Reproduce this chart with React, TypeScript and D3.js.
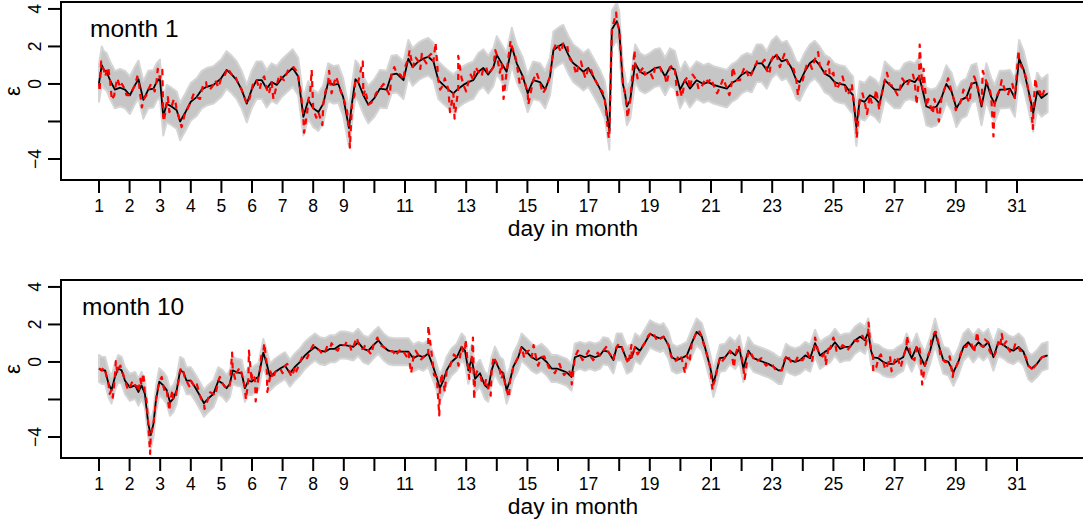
import React from 'react';
import * as d3 from 'd3';

type P = [number, number];

const dayTicks: number[] = d3.range(1, 32);
const dayLabels: number[] = [1, 2, 3, 4, 5, 6, 7, 8, 9, 11, 13, 15, 17, 19, 21, 23, 25, 27, 29, 31];
const yTicks: number[] = [-4, -2, 0, 2, 4];
const yLabels: number[] = [-4, 0, 2, 4];

// month 1 : smoothed estimate (black)
const m1Black: P[] = [
  [1.0,0.05],[1.09,1.0],[1.16,0.75],[1.25,0.65],[1.36,0.2],[1.52,-0.3],[1.69,-0.2],[1.85,-0.3],[2.01,-0.6],[2.18,-0.05],
  [2.29,0.25],[2.45,-0.85],[2.61,-0.3],[2.78,-0.25],[2.88,0.1],[2.99,0.3],[3.1,-1.75],[3.21,-1.05],[3.37,-1.2],[3.54,-1.4],
  [3.65,-2.0],[3.81,-1.55],[4.0,-0.95],[4.19,-0.7],[4.36,-0.3],[4.52,-0.15],[4.74,-0.05],[4.99,0.3],[5.17,0.75],[5.34,0.5],
  [5.5,0.2],[5.66,-0.3],[5.83,-1.05],[5.99,-0.3],[6.15,0.2],[6.32,0.2],[6.48,-0.25],[6.64,0.1],[6.81,-0.05],[6.97,0.3],
  [7.13,0.55],[7.33,0.85],[7.51,0.4],[7.68,-1.75],[7.84,-0.85],[8.0,-1.3],[8.17,-1.5],[8.33,-1.05],[8.49,0.1],[8.66,-0.05],
  [8.82,0.0],[8.98,-0.7],[9.17,-2.35],[9.27,-1.0],[9.38,0.25],[9.47,0.1],[9.64,-0.6],[9.8,-1.1],[10.0,-0.75],[10.18,-0.25],
  [10.4,-0.3],[10.56,0.5],[10.73,0.55],[10.95,0.2],[11.11,1.35],[11.25,0.9],[11.44,1.2],[11.6,1.35],[11.76,1.45],[11.93,1.2],
  [12.09,0.2],[12.25,-0.05],[12.42,-0.3],[12.58,-0.5],[12.74,-0.25],[12.91,-0.05],[13.07,0.1],[13.23,0.2],[13.4,0.65],[13.56,0.85],
  [13.72,0.5],[13.89,0.9],[14.0,1.55],[14.16,1.1],[14.32,0.65],[14.49,2.0],[14.65,1.1],[14.85,0.4],[15.01,-0.5],[15.19,0.2],
  [15.41,0.1],[15.58,-0.3],[15.74,0.4],[15.85,1.8],[16.01,2.0],[16.17,2.15],[16.34,1.55],[16.5,1.1],[16.66,0.9],[16.83,0.65],
  [16.99,0.85],[17.15,0.4],[17.37,-0.25],[17.53,-0.85],[17.68,-2.5],[17.76,2.9],[17.92,3.35],[18.0,2.9],[18.12,0.0],[18.19,-0.5],
  [18.25,-1.2],[18.36,-0.85],[18.52,1.1],[18.68,0.65],[18.84,0.5],[19.0,0.65],[19.17,0.85],[19.33,0.9],[19.5,0.4],[19.66,0.9],
  [19.82,0.75],[19.99,-0.3],[20.15,0.2],[20.31,-0.25],[20.53,0.2],[20.75,0.0],[20.91,0.1],[21.08,-0.05],[21.3,-0.15],[21.52,-0.25],
  [21.68,0.05],[21.84,0.2],[22.0,0.5],[22.17,0.65],[22.33,0.55],[22.49,1.1],[22.66,1.1],[22.82,0.75],[22.98,1.3],[23.14,1.55],
  [23.31,1.2],[23.47,1.3],[23.63,0.85],[23.79,0.2],[23.9,0.1],[24.06,0.65],[24.23,1.1],[24.39,1.3],[24.55,1.0],[24.72,0.55],
  [24.88,0.4],[25.04,0.1],[25.2,0.0],[25.37,-0.05],[25.53,-0.4],[25.64,-0.6],[25.75,-2.3],[25.86,-0.85],[26.02,-0.95],[26.19,-0.6],
  [26.35,-0.75],[26.51,-1.05],[26.68,0.2],[26.84,-0.05],[27.0,-0.3],[27.17,-0.3],[27.33,0.1],[27.49,0.2],[27.66,0.1],[27.8,0.4],
  [27.91,-0.3],[28.04,-1.2],[28.2,-1.3],[28.37,-1.2],[28.53,-0.75],[28.69,0.0],[28.86,-0.4],[29.02,-1.3],[29.18,-0.85],[29.35,-0.7],
  [29.51,0.0],[29.67,0.1],[29.84,-1.2],[30.0,0.1],[30.16,-0.7],[30.27,-1.05],[30.44,-0.3],[30.6,-0.3],[30.77,-0.25],[30.93,-0.75],
  [31.07,1.35],[31.22,0.75],[31.36,-0.25],[31.53,-1.55],[31.66,-0.4],[31.8,-0.75],[32.0,-0.5]
];

// month 1 : observed values (red dashed) where they leave the black path
const m1RedObs: P[] = [
  [1.02,-0.4],[1.07,1.2],[1.2,0.4],[1.3,0.9],[1.42,-0.85],[1.5,-0.6],[1.6,0.3],[1.75,0.0],[1.9,-0.6],[2.1,-0.3],
  [2.25,0.4],[2.4,-1.25],[2.55,-0.6],[2.7,0.0],[2.82,-0.4],[2.92,0.8],[3.07,0.75],[3.12,-2.0],[3.25,-0.7],[3.3,-1.5],
  [3.45,-0.8],[3.5,-1.0],[3.6,-1.7],[3.7,-2.3],[3.9,-1.3],[4.1,-0.5],[4.3,-0.8],[4.4,-0.1],[4.5,0.1],[4.6,-0.35],
  [4.8,0.2],[4.9,-0.2],[5.1,0.4],[5.2,0.85],[5.45,0.5],[5.6,-0.1],[5.9,-0.9],[6.05,0.1],[6.25,-0.3],[6.4,0.4],
  [6.55,-0.55],[6.7,-0.8],[6.9,0.5],[7.05,0.2],[7.2,0.8],[7.36,0.9],[7.45,0.7],[7.6,-0.5],[7.7,-2.6],[7.8,-1.6],
  [7.9,-0.5],[7.95,0.75],[8.1,-1.8],[8.3,-2.2],[8.4,-0.4],[8.52,0.7],[8.6,-0.5],[8.75,0.4],[8.9,-0.4],[9.1,-1.4],
  [9.2,-3.4],[9.35,-0.6],[9.62,1.2],[9.7,-0.3],[9.9,-1.0],[10.05,-0.5],[10.3,0.0],[10.5,-0.6],[10.65,0.9],[10.85,0.5],
  [11.0,0.9],[11.15,1.8],[11.35,1.4],[11.5,0.8],[11.55,1.6],[11.7,1.1],[11.85,1.6],[12.0,2.2],[12.15,-0.3],[12.3,0.3],
  [12.47,-1.5],[12.62,-1.85],[12.74,1.5],[12.85,0.3],[13.0,-0.4],[13.15,0.5],[13.3,0.9],[13.5,0.4],[13.65,0.9],[13.95,1.8],
  [14.1,0.6],[14.22,-0.8],[14.45,2.3],[14.6,1.5],[14.75,0.0],[14.9,0.2],[15.03,-1.1],[15.3,0.6],[15.5,-0.5],[15.8,1.2],
  [15.95,2.2],[16.1,1.7],[16.3,2.1],[16.4,1.3],[16.6,0.5],[16.75,1.2],[16.9,0.3],[17.05,0.9],[17.25,0.1],[17.45,-0.4],
  [17.66,-2.9],[17.9,3.8],[18.27,-1.8],[18.5,1.8],[18.6,0.3],[18.8,0.9],[19.1,0.3],[19.25,1.0],[19.4,0.6],[19.55,0.0],
  [19.75,1.0],[19.9,-0.6],[20.05,-0.7],[20.25,0.4],[20.4,0.5],[20.6,-0.3],[20.8,0.3],[21.0,0.3],[21.2,-0.5],[21.4,0.3],
  [21.6,-0.6],[21.7,0.9],[21.95,0.2],[22.1,0.9],[22.25,0.3],[22.4,0.9],[22.5,1.2],[22.75,1.3],[22.9,0.5],[23.1,1.65],
  [23.25,0.9],[23.4,1.6],[23.55,1.0],[23.7,0.8],[23.84,-0.6],[24.0,0.2],[24.15,1.1],[24.3,0.8],[24.5,1.7],[24.65,0.7],
  [24.85,1.2],[25.0,0.6],[25.1,-0.3],[25.3,0.4],[25.45,-0.6],[25.6,0.0],[25.76,-2.9],[25.95,-0.5],[26.1,-1.6],[26.25,-1.0],
  [26.4,-0.3],[26.5,-1.4],[26.6,-0.4],[26.75,0.6],[26.95,-0.1],[27.1,-0.6],[27.25,0.3],[27.4,-0.1],[27.6,0.5],[27.72,-1.1],
  [27.82,2.1],[27.95,0.8],[28.1,-0.8],[28.25,-1.6],[28.3,-0.8],[28.45,-2.0],[28.6,-0.4],[28.75,0.3],[28.95,-0.9],[29.0,-1.4],
  [29.1,-1.2],[29.25,-0.3],[29.45,-1.0],[29.6,0.4],[29.75,-0.4],[29.88,0.7],[30.1,-0.2],[30.23,-2.8],[30.35,-0.6],[30.5,0.2],
  [30.7,-0.6],[30.85,0.0],[31.05,1.8],[31.15,0.9],[31.3,0.3],[31.45,-1.0],[31.52,-2.4],[31.6,0.3],[31.75,-0.4],[31.9,-0.3]
];

// month 10 : smoothed estimate (black)
const m10Black: P[] = [
  [1.0,-0.35],[1.09,-0.45],[1.2,-0.45],[1.31,-1.15],[1.41,-1.5],[1.52,-0.8],[1.63,-0.35],[1.74,-0.45],[1.85,-1.0],[2.01,-1.35],
  [2.18,-1.25],[2.29,-1.6],[2.39,-1.25],[2.5,-1.7],[2.61,-3.3],[2.69,-3.9],[2.78,-3.3],[2.86,-2.05],[2.97,-1.05],[3.1,-1.25],
  [3.21,-1.5],[3.32,-2.15],[3.43,-1.95],[3.54,-1.5],[3.65,-0.45],[3.76,-0.55],[3.86,-1.0],[4.0,-1.0],[4.14,-1.35],[4.3,-1.8],
  [4.43,-2.2],[4.57,-1.95],[4.74,-1.7],[4.9,-1.0],[5.04,-1.15],[5.17,-1.4],[5.28,-1.15],[5.37,-0.45],[5.5,-0.55],[5.66,-0.6],
  [5.77,-1.4],[5.88,-1.0],[5.99,-1.05],[6.1,-0.9],[6.21,-0.8],[6.37,0.5],[6.48,-0.1],[6.59,-0.8],[6.75,-0.55],[6.92,-0.35],
  [7.08,-0.2],[7.24,-0.6],[7.41,-0.25],[7.57,0.0],[7.73,0.35],[7.9,0.6],[8.06,0.8],[8.22,0.6],[8.39,0.55],[8.55,0.7],
  [8.71,0.7],[8.88,0.9],[9.04,0.9],[9.2,0.85],[9.31,0.8],[9.47,1.05],[9.64,0.7],[9.8,0.6],[9.97,0.9],[10.13,1.15],
  [10.3,0.8],[10.46,0.6],[10.62,0.55],[10.78,0.55],[10.95,0.55],[11.11,0.55],[11.27,0.2],[11.44,0.35],[11.6,0.25],[11.76,0.45],
  [11.92,-0.25],[12.03,-0.8],[12.14,-1.4],[12.25,-1.0],[12.36,-0.45],[12.52,0.0],[12.69,0.25],[12.85,0.8],[12.96,0.6],[13.07,-0.45],
  [13.18,0.2],[13.29,-0.9],[13.45,-0.6],[13.61,-1.25],[13.72,-1.4],[13.83,-0.45],[13.94,0.1],[14.1,-0.45],[14.21,-0.6],[14.32,-1.5],
  [14.43,-1.0],[14.54,-0.25],[14.7,0.25],[14.81,0.8],[14.97,0.55],[15.14,0.25],[15.3,0.1],[15.46,0.25],[15.63,0.0],[15.79,-0.35],
  [15.96,-0.35],[16.12,-0.45],[16.28,-0.55],[16.44,-0.8],[16.55,0.25],[16.72,0.35],[16.88,0.25],[17.04,0.35],[17.21,0.25],[17.37,0.35],
  [17.48,0.6],[17.64,0.55],[17.81,0.1],[17.92,0.8],[18.08,0.8],[18.25,0.1],[18.41,0.25],[18.52,0.8],[18.68,0.6],[18.85,1.05],
  [19.01,1.5],[19.17,1.35],[19.34,1.25],[19.45,1.35],[19.61,0.9],[19.72,0.25],[19.88,0.1],[20.04,0.2],[20.21,0.35],[20.37,1.0],
  [20.53,1.6],[20.7,1.35],[20.8,0.8],[20.97,-0.25],[21.08,-1.15],[21.19,-0.45],[21.29,0.2],[21.46,0.25],[21.62,0.6],[21.79,0.35],
  [21.93,0.7],[22.06,-0.35],[22.22,0.6],[22.39,0.2],[22.55,0.1],[22.71,0.0],[22.87,-0.1],[23.04,-0.25],[23.2,-0.45],[23.31,-0.45],
  [23.45,0.25],[23.58,0.1],[23.75,0.0],[23.91,0.1],[24.08,0.35],[24.24,0.2],[24.4,1.0],[24.56,0.35],[24.73,0.55],[24.89,0.7],
  [25.05,1.05],[25.22,0.7],[25.38,0.8],[25.54,0.8],[25.7,1.15],[25.87,1.35],[26.03,1.15],[26.14,1.6],[26.23,0.6],[26.3,0.25],
  [26.47,0.2],[26.63,0.0],[26.79,-0.1],[26.96,-0.1],[27.12,0.1],[27.28,0.25],[27.39,0.8],[27.56,0.2],[27.72,0.8],[27.85,0.25],
  [27.99,-0.2],[28.16,0.6],[28.32,1.6],[28.46,0.8],[28.59,0.1],[28.76,0.0],[28.92,-0.55],[29.08,0.0],[29.25,0.8],[29.41,1.05],
  [29.57,0.7],[29.74,1.05],[29.9,0.8],[30.06,1.05],[30.23,0.25],[30.39,1.05],[30.56,0.9],[30.72,0.7],[30.88,0.6],[31.05,0.8],
  [31.21,0.55],[31.37,-0.2],[31.48,-0.35],[31.65,-0.1],[31.81,0.25],[32.0,0.35]
];

// month 10 : observed values (red dashed) where they leave the black path
const m10RedObs: P[] = [
  [1.15,-0.3],[1.25,-0.8],[1.35,-1.7],[1.45,-1.9],[1.55,0.05],[1.6,-0.6],[1.7,-0.2],[1.8,-0.7],[1.95,-1.5],[2.1,-1.0],
  [2.25,-1.3],[2.35,-0.9],[2.45,-0.6],[2.55,-2.0],[2.67,-4.9],[2.9,-1.6],[3.05,-0.8],[3.15,-1.6],[3.3,-2.6],[3.4,-1.5],
  [3.5,-2.0],[3.6,-1.0],[3.7,-0.3],[3.8,-0.8],[3.95,-1.3],[4.2,-1.2],[4.35,-2.0],[4.45,-2.5],[4.6,-1.6],[4.8,-1.8],
  [4.95,-0.8],[5.1,-1.3],[5.25,-1.4],[5.35,0.5],[5.45,-0.9],[5.6,-0.3],[5.7,-0.9],[5.8,-2.0],[5.9,0.6],[6.0,-0.6],
  [6.12,-2.1],[6.25,-0.6],[6.3,0.3],[6.4,1.0],[6.5,-1.6],[6.6,-0.5],[6.7,-0.9],[6.85,-0.4],[7.0,-0.6],[7.15,-0.1],
  [7.3,-0.8],[7.45,-0.5],[7.65,0.3],[7.8,0.2],[8.0,0.9],[8.3,0.4],[8.45,0.8],[8.6,1.0],[8.8,0.6],[9.1,1.1],
  [9.25,0.6],[9.42,1.3],[9.55,0.7],[9.7,0.9],[9.9,0.4],[10.1,1.3],[10.2,0.9],[10.4,0.7],[10.7,0.3],[10.9,0.7],
  [11.05,0.3],[11.2,-0.6],[11.35,0.6],[11.5,0.1],[11.65,0.5],[11.76,1.95],[11.95,-0.7],[12.05,-1.1],[12.12,-2.85],[12.2,-0.6],
  [12.3,-1.6],[12.45,-0.3],[12.6,0.4],[12.75,-0.2],[12.9,0.5],[12.98,1.2],[13.1,-0.9],[13.22,1.3],[13.26,-2.0],[13.35,-0.5],
  [13.5,-1.0],[13.65,-0.9],[13.8,-1.8],[13.9,0.3],[14.05,-0.2],[14.15,-0.9],[14.25,-1.0],[14.4,-1.9],[14.5,-0.6],[14.65,0.1],
  [14.9,0.2],[15.05,0.6],[15.2,0.9],[15.35,-0.2],[15.55,0.3],[15.7,-0.3],[15.9,-0.6],[16.05,-0.1],[16.2,-0.7],[16.35,-0.4],
  [16.45,-1.2],[16.65,0.6],[16.8,0.1],[17.0,0.6],[17.15,0.1],[17.3,0.5],[17.6,0.85],[17.75,0.3],[17.85,0.5],[18.0,1.0],
  [18.15,0.5],[18.3,-0.1],[18.4,0.9],[18.6,0.4],[18.75,0.8],[18.95,1.4],[19.1,1.6],[19.25,1.1],[19.5,1.2],[19.7,0.3],
  [19.8,0.0],[19.95,0.4],[20.15,-0.6],[20.3,0.0],[20.45,1.3],[20.6,1.7],[20.75,1.0],[20.9,0.2],[21.05,-1.5],[21.15,-0.9],
  [21.35,0.0],[21.55,0.4],[21.7,0.2],[21.75,-0.3],[21.9,0.9],[22.0,0.3],[22.1,-0.9],[22.3,0.5],[22.45,0.0],[22.65,0.2],
  [22.8,-0.2],[23.0,-0.1],[23.15,-0.5],[23.4,0.1],[23.5,0.4],[23.65,-0.1],[23.85,0.3],[24.0,0.1],[24.15,0.5],[24.3,0.0],
  [24.4,1.3],[24.5,0.6],[24.65,0.3],[24.75,-0.2],[24.85,0.9],[25.0,1.3],[25.1,0.6],[25.3,0.9],[25.45,0.6],[25.6,1.0],
  [25.8,1.1],[25.95,1.4],[26.05,0.9],[26.15,2.1],[26.2,1.0],[26.3,-0.5],[26.4,-0.3],[26.55,0.4],[26.7,-0.4],[26.85,0.3],
  [26.9,-0.5],[27.05,0.3],[27.2,-0.3],[27.4,1.4],[27.5,0.6],[27.65,0.1],[27.8,0.9],[27.9,-1.2],[28.05,0.2],[28.2,1.2],
  [28.35,1.6],[28.5,0.3],[28.65,0.0],[28.8,0.3],[28.9,-0.8],[29.0,-0.3],[29.15,0.4],[29.35,0.8],[29.5,1.0],[29.6,0.5],
  [29.7,1.6],[29.8,0.9],[29.95,1.2],[30.1,0.6],[30.3,0.5],[30.45,0.8],[30.5,1.5],[30.65,1.1],[30.8,0.5],[30.95,1.0],
  [31.1,0.6],[31.3,0.2],[31.5,-0.5],[31.55,-0.3],[31.7,0.0],[31.9,0.3]
];

const FONT = "'Liberation Sans', Arial, Helvetica, sans-serif";

interface PanelProps {
  top: number;
  black: P[];
  obs: P[];
  label: string;
  labelX: number;
  half: number;
}

function Panel({ top, black, obs, label, labelX, half }: PanelProps) {
  const bottom = top + 178;
  const left = 61;
  const x = d3.scaleLinear().domain([1, 32]).range([99, 99 + 30.6 * 31]);
  const y = d3.scaleLinear().domain([-5.12, 4.37]).range([bottom, top]);
  const red = [...black, ...obs].sort((a, b) => a[0] - b[0]);
  const line = d3.line<P>().x(d => x(d[0])).y(d => y(d[1]));
  const area = d3.area<P>().x(d => x(d[0])).y0(d => y(d[1] - half)).y1(d => y(d[1] + half));
  return (
    <g>
      <path d={area(black) || ''} fill="#c6c6c6" stroke="#d5d5d5" strokeWidth={2} strokeLinejoin="round" />
      <path d={line(black) || ''} fill="none" stroke="#000" strokeWidth={1.8} strokeLinejoin="round" />
      <path d={line(red) || ''} fill="none" stroke="#ff0000" strokeWidth={2.2} strokeDasharray="6,5" strokeLinejoin="round" />
      <rect x={left} y={top} width={1100} height={bottom - top} fill="none" stroke="#000" strokeWidth={2} />
      {dayTicks.map(d => (
        <line key={'xt' + d} x1={x(d)} x2={x(d)} y1={bottom} y2={bottom + 13} stroke="#000" strokeWidth={2} />
      ))}
      {dayLabels.map(d => (
        <text key={'xl' + d} x={x(d)} y={bottom + 32} textAnchor="middle" fontSize={17.5} fontFamily={FONT}>{d}</text>
      ))}
      {yTicks.map(v => (
        <line key={'yt' + v} x1={left - 13} x2={left} y1={y(v)} y2={y(v)} stroke="#000" strokeWidth={2} />
      ))}
      {yLabels.map(v => (
        <text key={'yl' + v} transform={`translate(41,${y(v)}) rotate(-90)`} textAnchor="middle" fontSize={17.5} fontFamily={FONT}>
          {v < 0 ? '\u2212' + Math.abs(v) : String(v)}
        </text>
      ))}
      <text transform={`translate(19.5,${(top + bottom) / 2}) rotate(-90)`} textAnchor="middle" fontSize={22} fontFamily={FONT}>ε</text>
      <text x={573} y={bottom + 56} textAnchor="middle" fontSize={22.75} fontFamily={FONT}>day in month</text>
      <text x={labelX} y={top + 35} fontSize={24.5} fontFamily={FONT}>{label}</text>
    </g>
  );
}

export default function App() {
  return (
    <svg width={1083} height={523} style={{ position: 'absolute', left: 0, top: 0, background: '#fff' }}>
      <rect x={0} y={0} width={1083} height={523} fill="#fff" />
      <Panel top={2} black={m1Black} obs={m1RedObs} label="month 1" labelX={90} half={1.0} />
      <Panel top={280} black={m10Black} obs={m10RedObs} label="month 10" labelX={82} half={0.72} />
    </svg>
  );
}
